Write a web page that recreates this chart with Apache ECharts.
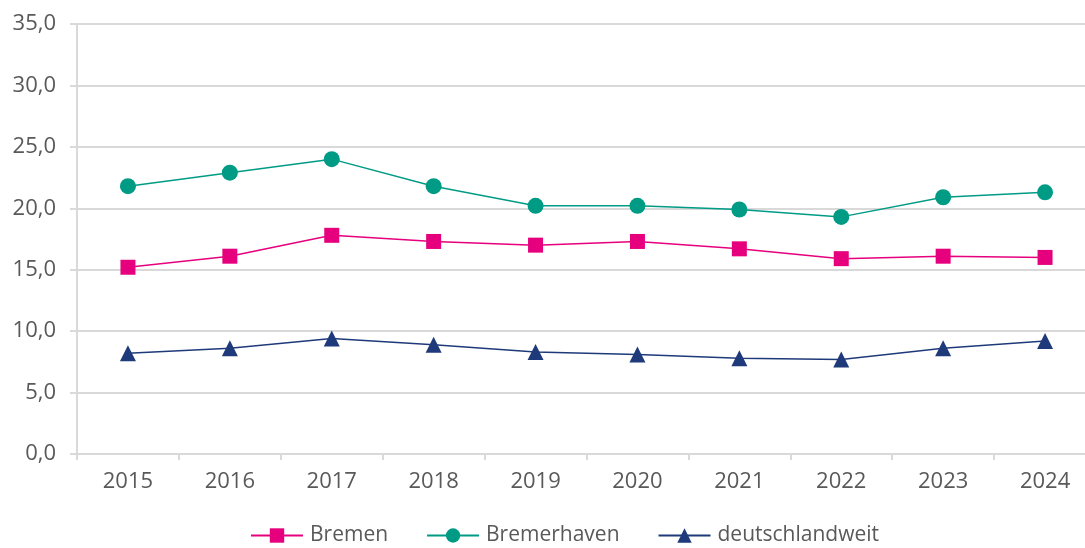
<!DOCTYPE html>
<html lang="de">
<head>
    <meta charset="UTF-8">
    <title>Bremen / Bremerhaven / deutschlandweit</title>
    <script src="https://cdn.jsdelivr.net/npm/echarts@6/dist/echarts.min.js"></script>
    <style>
        html, body { margin: 0; padding: 0; background: #fff; }
        #chart { width: 1085px; height: 548px; }
    </style>
</head>
<body>
<div id="chart"></div>
<script>
    // data
    const years = ['2015', '2016', '2017', '2018', '2019', '2020', '2021', '2022', '2023', '2024'];
    const bremen = [15.2, 16.1, 17.8, 17.3, 17.0, 17.3, 16.7, 15.9, 16.1, 16.0];
    const bremerhaven = [21.8, 22.9, 24.0, 21.8, 20.2, 20.2, 19.9, 19.3, 20.9, 21.3];
    const deutschlandweit = [8.2, 8.6, 9.4, 8.9, 8.3, 8.1, 7.8, 7.7, 8.6, 9.2];

    const fontFamily = '"Open Sans", "Noto Sans", sans-serif';
    const textColor = '#595959';
    const gridColor = '#d9d9d9';

    let chart = echarts.init(document.getElementById('chart'));

    function line(name, data, color, symbol, size) {
        return {
            name: name,
            type: 'line',
            data: data,
            symbol: symbol,
            symbolSize: size,
            lineStyle: { color: color, width: 1.5 },
            itemStyle: { color: color },
            emphasis: { disabled: true }
        };
    }

    let option = {
        animation: false,
        textStyle: { fontFamily: fontFamily },
        grid: {
            left: 77,
            width: 1019,
            top: 24,
            bottom: 94,
            containLabel: false,
            outerBoundsMode: 'none'
        },
        xAxis: {
            type: 'category',
            data: years,
            boundaryGap: true,
            axisLine: { lineStyle: { color: gridColor, width: 2 } },
            axisTick: { show: true, length: 6, lineStyle: { color: gridColor, width: 2 } },
            axisLabel: { color: textColor, fontSize: 22, margin: 17, fontFamily: fontFamily }
        },
        yAxis: {
            type: 'value',
            min: 0,
            max: 35,
            interval: 5,
            axisLine: { show: true, lineStyle: { color: gridColor, width: 2 } },
            axisTick: { show: true, length: 7, lineStyle: { color: gridColor, width: 2 } },
            splitLine: { lineStyle: { color: gridColor, width: 2 } },
            axisLabel: {
                color: textColor,
                fontSize: 22,
                margin: 21,
                fontFamily: fontFamily,
                formatter: function (v) { return v.toFixed(1).replace('.', ','); }
            }
        },
        legend: {
            top: 520,
            left: 245,
            itemWidth: 52,
            itemHeight: 18,
            itemGap: 38,
            textStyle: { color: textColor, fontSize: 21, fontFamily: fontFamily, padding: [0, 0, 0, 2] },
            data: ['Bremen', 'Bremerhaven', 'deutschlandweit']
        },
        series: [
            line('Bremen', bremen, '#e6007e', 'rect', 15),
            line('Bremerhaven', bremerhaven, '#009b85', 'circle', 16),
            line('deutschlandweit', deutschlandweit, '#1f3a7a', 'triangle', 16)
        ]
    };
    chart.setOption(option);
</script>
</body>
</html>
